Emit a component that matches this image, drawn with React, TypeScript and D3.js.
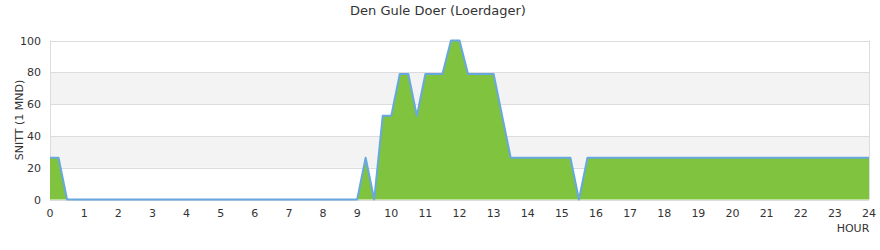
import React from "react";
import * as d3 from "d3";

const title = "Den Gule Doer (Loerdager)";
const yTitle = "SNITT (1 MND)";
const xTitle = "HOUR";
const yTicks = [0, 20, 40, 60, 80, 100];
const xTicks = d3.range(0, 25);
// 15-minute samples from 0:00 to 24:00
const values: number[] = [
  26.3, 26.3, 0, 0, // 0
  0, 0, 0, 0, // 1
  0, 0, 0, 0, // 2
  0, 0, 0, 0, // 3
  0, 0, 0, 0, // 4
  0, 0, 0, 0, // 5
  0, 0, 0, 0, // 6
  0, 0, 0, 0, // 7
  0, 0, 0, 0, // 8
  0, 26.3, 0, 52.6, // 9
  52.6, 78.9, 78.9, 52.6, // 10
  78.9, 78.9, 78.9, 100, // 11
  100, 78.9, 78.9, 78.9, // 12
  78.9, 52.6, 26.3, 26.3, // 13
  26.3, 26.3, 26.3, 26.3, // 14
  26.3, 26.3, 0, 26.3, // 15
  26.3, 26.3, 26.3, 26.3, // 16
  26.3, 26.3, 26.3, 26.3, // 17
  26.3, 26.3, 26.3, 26.3, // 18
  26.3, 26.3, 26.3, 26.3, // 19
  26.3, 26.3, 26.3, 26.3, // 20
  26.3, 26.3, 26.3, 26.3, // 21
  26.3, 26.3, 26.3, 26.3, // 22
  26.3, 26.3, 26.3, 26.3, // 23
  26.3, // 24
];
const hours = values.map((_, i) => i / 4);

export default function App() {
  const W = 880, H = 250;
  const L = 50, R = 869, T = 40.5, B = 199.5;
  const x = d3.scaleLinear().domain([0, 24]).range([L, R]);
  const y = d3.scaleLinear().domain([0, 100]).range([B, T]);
  const pts = hours.map((h, i) => [h, values[i]] as [number, number]);
  const area = d3.area<[number, number]>().x(d => x(d[0])).y0(y(0)).y1(d => y(d[1]));
  const line = d3.line<[number, number]>().x(d => x(d[0])).y(d => y(d[1]));
  const font = "'DejaVu Sans', Verdana, sans-serif";
  const bands = [];
  for (let i = 0; i < yTicks.length - 1; i++) {
    if (i % 2 === 1) bands.push([yTicks[i], yTicks[i + 1]]);
  }
  return (
    <svg width={W} height={H} style={{ position: "absolute", left: 0, top: 0 }} fontFamily={font}>
      <rect x={0} y={0} width={W} height={H} fill="#fff" />
      <text x={438} y={15} textAnchor="middle" fontSize={13} fill="#333">{title}</text>
      {bands.map(([a, b]) => (
        <rect key={a} x={L} y={y(b)} width={R - L} height={y(a) - y(b)} fill="#f3f3f3" />
      ))}
      {yTicks.map(t => (
        <line key={t} x1={L} x2={R} y1={Math.round(y(t)) + 0.5} y2={Math.round(y(t)) + 0.5} stroke="#dcdcdc" strokeWidth={1} />
      ))}
      <line x1={L + 0.5} x2={L + 0.5} y1={T} y2={B} stroke="#dcdcdc" />
      <line x1={R + 0.5} x2={R + 0.5} y1={T} y2={B} stroke="#dcdcdc" />
      <path d={area(pts) || ""} fill="#80c33e" />
      <path d={line(pts) || ""} fill="none" stroke="#68a8e0" strokeWidth={2} strokeLinejoin="round" />
      {yTicks.map(t => (
        <text key={t} x={41} y={y(t) + 4} textAnchor="end" fontSize={11} fill="#333">{t}</text>
      ))}
      {xTicks.map(t => (
        <text key={t} x={x(t)} y={217} textAnchor="middle" fontSize={11} fill="#333">{t}</text>
      ))}
      <text x={853} y={232} textAnchor="middle" fontSize={11} fill="#333">{xTitle}</text>
      <text transform={`translate(23,${(T + B) / 2}) rotate(-90)`} textAnchor="middle" fontSize={11} fill="#333">{yTitle}</text>
    </svg>
  );
}
